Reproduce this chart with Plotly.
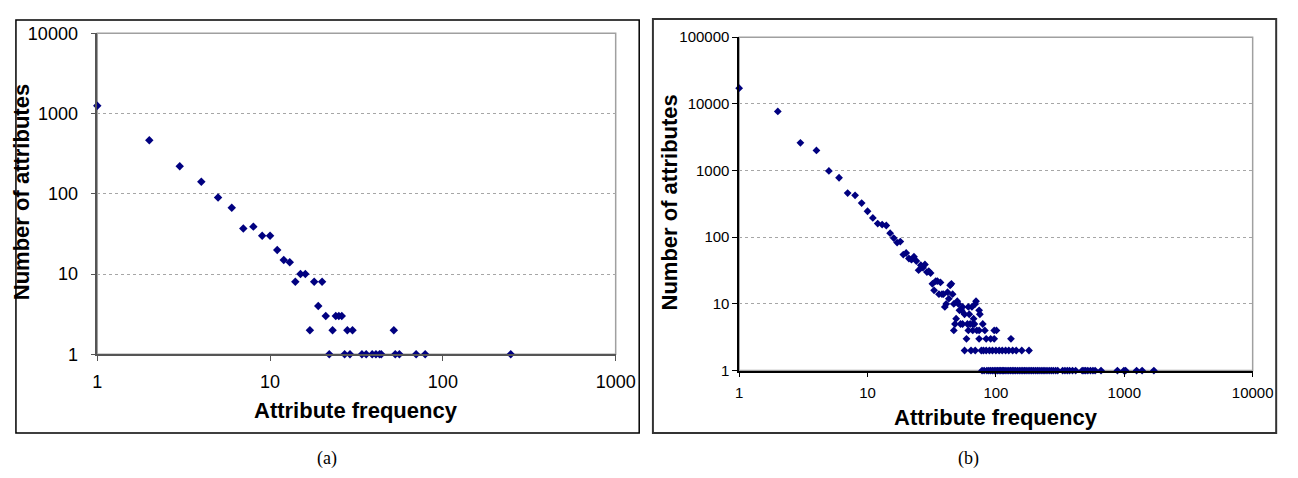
import plotly.graph_objects as go

# ---------------- Data: chart (a) ----------------
a_freq = [1, 2, 3, 4, 5, 6, 7, 8, 9, 10, 11, 12, 13, 14, 15, 16, 17, 18, 19, 20,
          21, 22, 23, 24, 25, 26, 27, 28, 29, 30, 34, 36, 39, 41, 43, 44, 52, 53,
          56, 70, 79, 247]
a_count = [1250, 466, 220, 141, 90, 67, 37, 39, 30, 30, 20, 15, 14, 8, 10, 10, 2, 8, 4, 8,
           3, 1, 2, 3, 3, 3, 1, 2, 1, 2, 1, 1, 1, 1, 1, 1, 2, 1,
           1, 1, 1, 1]

# ---------------- Data: chart (b) ----------------
b_freq_head = [1, 2, 3, 4, 5, 6, 7, 8, 9, 10, 11, 12, 13, 14, 15, 16, 17, 18, 19, 20,
               21, 22, 23, 24, 25, 26, 27, 28, 29, 30, 31, 32, 33, 34, 35, 36, 37, 38,
               39, 40, 41, 42, 43, 44, 45, 46]
b_count_head = [17200, 7700, 2600, 2000, 985, 780, 460, 425, 325, 245, 195, 160, 155, 150,
                115, 97, 83, 86, 55, 58, 48, 46, 51, 44, 32, 38, 35, 39, 30, 31, 29, 20,
                16, 22, 22, 14, 21, 14, 14, 9, 10, 15, 12, 19, 20, 14]
# frequencies whose attribute count is 11, 10, ... 1
b_freq_c11 = [50, 70]
b_freq_c10 = [47, 51, 69]
b_freq_c9 = [55, 61, 65]
b_freq_c8 = [52, 54, 74]
b_freq_c7 = [57, 62, 75]
b_freq_c6 = [49, 67]
b_freq_c5 = [48, 53, 55, 60, 63, 66, 68, 79]
b_freq_c4 = [47, 61, 66, 71, 74, 82, 97, 101]
b_freq_c3 = [59, 74, 84, 91, 97, 131]
b_freq_c2 = [57, 64, 69, 77, 80, 84, 89, 94, 100, 106, 112, 119, 126, 135, 144, 159, 181]
b_freq_c1 = [78, 81, 85, 88, 91, 94, 97, 100, 103, 106, 109, 112, 115, 118, 122, 126, 130,
             134, 138, 142, 147, 152, 157, 162, 167, 172, 178, 184, 190, 196, 203, 210,
             217, 225, 233, 241, 250, 260, 270, 280, 292, 303, 331, 345, 360, 375, 395,
             418, 470, 485, 500, 520, 545, 570, 593, 659, 884, 993, 1023, 1247, 1377, 1700]

x_ticks_a = [1, 10, 100, 1000]
y_ticks_a = [1, 10, 100, 1000, 10000]
x_ticks_b = [1, 10, 100, 1000, 10000]
y_ticks_b = [1, 10, 100, 1000, 10000, 100000]

b_rows = [(b_freq_c11, 11), (b_freq_c10, 10), (b_freq_c9, 9), (b_freq_c8, 8),
          (b_freq_c7, 7), (b_freq_c6, 6), (b_freq_c5, 5), (b_freq_c4, 4),
          (b_freq_c3, 3), (b_freq_c2, 2), (b_freq_c1, 1)]
b_freq = list(b_freq_head)
b_count = list(b_count_head)
for xs, c in b_rows:
    b_freq += xs
    b_count += [c] * len(xs)

W, H = 1298, 478
NAVY = "#000080"
FONT = "Liberation Sans, Arial, sans-serif"

def px(x):
    return x / W

def py(y):
    return (H - y) / H

# plot-area pixel geometry
A_L, A_R, A_T, A_B = 86, 615, 16, 351
B_L, B_R, B_T, B_B = 741, 1265, 20, 368

fig = go.Figure()
fig.add_trace(go.Scatter(x=a_freq, y=a_count, mode="markers", xaxis="x", yaxis="y",
                         marker=dict(symbol="diamond", size=6.5, color=NAVY),
                         cliponaxis=False, showlegend=False))
fig.add_trace(go.Scatter(x=b_freq, y=b_count, mode="markers", xaxis="x2", yaxis="y2",
                         marker=dict(symbol="diamond", size=6, color=NAVY),
                         cliponaxis=False, showlegend=False))

def xaxis(dom, rng, ticks, size, color, anchor, standoff):
    return dict(type="log", domain=dom, range=rng, anchor=anchor,
                tickvals=ticks, ticktext=[str(t) for t in ticks],
                ticks="outside", ticklen=5, tickcolor=color, tickwidth=1,
                showline=True, linecolor=color, linewidth=1.5,
                showgrid=False, zeroline=False,
                tickfont=dict(family=FONT, size=size, color="black"),
                ticklabelstandoff=standoff)

def yaxis(dom, rng, ticks, size, color, anchor, suffix):
    return dict(type="log", domain=dom, range=rng, anchor=anchor,
                tickvals=ticks, ticktext=[str(t) + suffix for t in ticks],
                ticks="outside", ticklen=5, tickcolor=color, tickwidth=1,
                showline=True, linecolor=color, linewidth=1.5,
                showgrid=True, gridcolor="#a6a6a6", griddash="3px,3px", gridwidth=1,
                zeroline=False,
                tickfont=dict(family=FONT, size=size, color="black"))

fig.update_layout(
    width=W, height=H,
    margin=dict(l=0, r=0, t=0, b=0),
    paper_bgcolor="white", plot_bgcolor="white",
    xaxis=xaxis([px(A_L), px(A_R)], [0, 3], x_ticks_a, 18, "#555555", "y", 5),
    yaxis=yaxis([py(A_B), py(A_T)], [0, 4], y_ticks_a, 18, "#555555", "x", "\u2002"),
    xaxis2=xaxis([px(B_L), px(B_R)], [0, 4], x_ticks_b, 15, "black", "y2", 3),
    yaxis2=yaxis([py(B_B), py(B_T)], [0, 5], y_ticks_b, 15, "black", "x2", ""),
)

# plot area borders (gray) and outer frames (black)
shapes = [
    dict(type="rect", xref="paper", yref="paper", x0=px(A_L), x1=px(A_R), y0=py(A_B), y1=py(A_T),
         line=dict(color="#a0a0a0", width=1.5), layer="below"),
    dict(type="rect", xref="paper", yref="paper", x0=px(B_L), x1=px(B_R), y0=py(B_B), y1=py(B_T),
         line=dict(color="#a0a0a0", width=1.5), layer="below"),
    dict(type="rect", xref="paper", yref="paper", x0=px(3), x1=px(639), y0=py(433), y1=py(2),
         line=dict(color="black", width=1.5)),
    dict(type="rect", xref="paper", yref="paper", x0=px(653), x1=px(1289), y0=py(433), y1=py(1),
         line=dict(color="#333333", width=2)),
]
fig.update_layout(shapes=shapes)

title_font = dict(family=FONT, size=22, color="black")
ann = [
    dict(text="<b>Number of attributes</b>", x=px(9), y=py(182), textangle=-90,
         xanchor="center", yanchor="middle", font=title_font),
    dict(text="<b>Attribute frequency</b>", x=px(350), y=py(410),
         xanchor="center", yanchor="middle", font=title_font),
    dict(text="<b>Number of attributes</b>", x=px(670), y=py(193), textangle=-90,
         xanchor="center", yanchor="middle", font=title_font),
    dict(text="<b>Attribute frequency</b>", x=px(1003), y=py(417),
         xanchor="center", yanchor="middle", font=title_font),
    dict(text="(a)", x=px(320), y=py(460), xanchor="center", yanchor="middle",
         font=dict(family="Liberation Serif, serif", size=18, color="black")),
    dict(text="(b)", x=px(975), y=py(460), xanchor="center", yanchor="middle",
         font=dict(family="Liberation Serif, serif", size=18, color="black")),
]
for a in ann:
    a.update(xref="paper", yref="paper", showarrow=False)
fig.update_layout(annotations=ann)

fig.write_html("out.html")
